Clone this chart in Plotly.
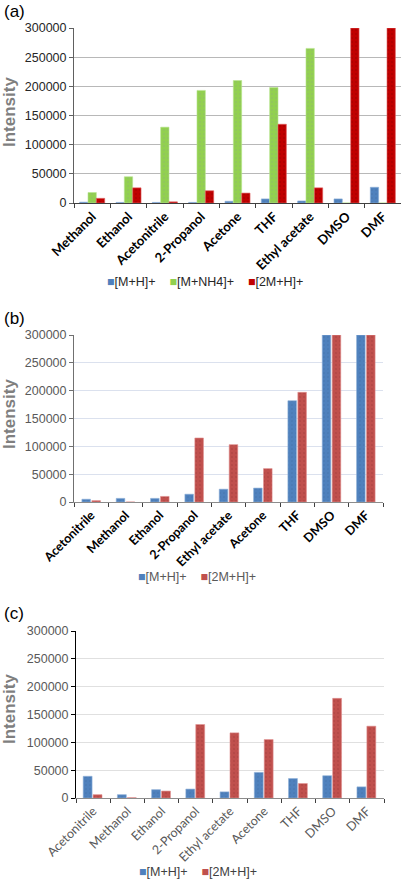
import plotly.graph_objects as go

# ---------------- data ----------------
cats_a = ["Methanol", "Ethanol", "Acetonitrile", "2-Propanol", "Acetone", "THF",
          "Ethyl acetate", "DMSO", "DMF"]
a_mh = [1500, 1000, 1000, 1000, 3000, 7000, 3500, 7000, 27000]
a_mnh4 = [18000, 45000, 130000, 193000, 210000, 198000, 265000, 0, 0]
a_2mh = [8000, 26000, 2000, 21000, 17000, 135000, 26000, 300000, 300000]

cats_b = ["Acetonitrile", "Methanol", "Ethanol", "2-Propanol", "Ethyl acetate",
          "Acetone", "THF", "DMSO", "DMF"]
b_mh = [5000, 6500, 6500, 14000, 23000, 25000, 182000, 300000, 300000]
b_2mh = [2500, 0, 10000, 115000, 103000, 60000, 197000, 300000, 300000]

cats_c = ["Acetonitrile", "Methanol", "Ethanol", "2-Propanol", "Ethyl acetate",
          "Acetone", "THF", "DMSO", "DMF"]
c_mh = [39000, 6000, 15000, 16000, 11000, 46000, 35000, 40000, 20000]
c_2mh = [6000, 500, 12500, 132000, 117000, 105000, 26000, 179000, 129000]

yticks = [0, 50000, 100000, 150000, 200000, 250000, 300000]

# ---------------- styling ----------------
W, H = 401, 879
def py(px):
    return 1 - px / H

BLUE = "#4f81bd"
GREEN = "#92d050"
RED_A = "#c00000"
RED_B = "#c0504d"
TICKFONT = "Liberation Sans"
CATFONT = "Lato"

fig = go.Figure()

def bar(x, y, name, color, xa, ya, width, offset, pat_fg, line_col):
    fig.add_trace(go.Bar(
        x=x, y=y, name=name, xaxis=xa, yaxis=ya, width=width, offset=offset,
        showlegend=False,
        marker=dict(color=color, line=dict(color=line_col, width=0.6),
                    pattern=dict(shape=".", fgcolor=pat_fg, size=4, solidity=0.12)),
    ))

# panel (a)
bar(cats_a, a_mh, "[M+H]+", BLUE, "x", "y", 0.23, -0.345, "#3b6597", "#8fb0d8")
bar(cats_a, a_mnh4, "[M+NH4]+", GREEN, "x", "y", 0.23, -0.115, "#8a9f8a", "#b8e690")
bar(cats_a, a_2mh, "[2M+H]+", RED_A, "x", "y", 0.23, 0.115, "#700000", "#e06060")
# panel (b)
bar(cats_b, b_mh, "[M+H]+", BLUE, "x2", "y2", 0.25, -0.27, "#3b6597", "#8fb0d8")
bar(cats_b, b_2mh, "[2M+H]+", RED_B, "x2", "y2", 0.25, 0.02, "#8a3030", "#e09090")
# panel (c)
bar(cats_c, c_mh, "[M+H]+", BLUE, "x3", "y3", 0.26, -0.29, "#3b6597", "#8fb0d8")
bar(cats_c, c_2mh, "[2M+H]+", RED_B, "x3", "y3", 0.26, 0.0, "#8a3030", "#e09090")

def xaxis(domain, anchor, cats, fontcolor, bold, linecolor, size):
    return dict(
        domain=domain, anchor=anchor, type="category", range=[-0.5, 8.5],
        categoryorder="array", categoryarray=cats, automargin=False,
        tickangle=-45, tickson="boundaries", ticks="outside", ticklen=4,
        tickcolor="#404040", showline=True, linecolor=linecolor, linewidth=1,
        showgrid=False, fixedrange=True,
        tickfont=dict(family=CATFONT, size=size, color=fontcolor,
                      weight="bold" if bold else "normal"),
    )

def yaxis(domain, anchor, gridcolor, linecolor, fontcolor):
    return dict(
        domain=domain, anchor=anchor, range=[0, 300000], tickvals=yticks,
        ticktext=[str(v) for v in yticks], ticks="outside", ticklen=4,
        automargin=False, fixedrange=True,
        tickcolor=linecolor, showline=True, linecolor=linecolor, linewidth=1,
        showgrid=True, gridcolor=gridcolor, gridwidth=1, zeroline=False,
        tickfont=dict(family=TICKFONT, size=12.5, color=fontcolor),
    )

fig.update_layout(
    width=W, height=H, margin=dict(l=0, r=0, t=0, b=0, autoexpand=False),
    paper_bgcolor="white", plot_bgcolor="white", barmode="overlay",
    showlegend=False,
    xaxis=xaxis([74 / W, 1.0], "y", cats_a, "#000000", True, "#404040", 13),
    yaxis=yaxis([py(203), py(28)], "x", "#b8b8b8", "#606060", "#262626"),
    xaxis2=xaxis([74 / W, 383 / W], "y2", cats_b, "#000000", True, "#8c8c8c", 12.5),
    yaxis2=yaxis([py(502), py(335)], "x2", "#dbe1ee", "#707070", "#595959"),
    xaxis3=xaxis([76 / W, 384 / W], "y3", cats_c, "#595959", False, "#8c8c8c", 12.5),
    yaxis3=yaxis([py(798), py(631)], "x3", "#e0e0e0", "#000000", "#595959"),
)

# legends (compact, as in the original)
def sq(c):
    return f"<span style='color:{c}'>■</span>"

legends = [
    (205, 282, [(BLUE, "[M+H]+"), (GREEN, "[M+NH4]+"), (RED_A, "[2M+H]+")], "#262626"),
    (197, 577, [(BLUE, "[M+H]+"), (RED_B, "[2M+H]+")], "#595959"),
    (198, 872, [(BLUE, "[M+H]+"), (RED_B, "[2M+H]+")], "#404040"),
]
for xpx, ypx, items, col in legends:
    txt = "    ".join(sq(c) + n for c, n in items)
    fig.add_annotation(text=txt, x=xpx / W, y=py(ypx), xref="paper", yref="paper",
                       xanchor="center", yanchor="middle", showarrow=False,
                       font=dict(family=TICKFONT, size=12.5, color=col))

# panel labels and axis titles
for lab, ypx in [("(a)", 12), ("(b)", 318), ("(c)", 613)]:
    fig.add_annotation(text=lab, x=2 / W, y=py(ypx), xref="paper", yref="paper",
                       xanchor="left", yanchor="middle", showarrow=False,
                       font=dict(family=TICKFONT, size=17, color="#000000"))
for ypx in [112, 414, 709]:
    fig.add_annotation(text="<b>Intensity</b>", x=9 / W, y=py(ypx), xref="paper", yref="paper",
                       xanchor="center", yanchor="middle", showarrow=False, textangle=-90,
                       font=dict(family=TICKFONT, size=17, color="#7f7f7f"))

fig.write_html(
    "out.html",
    config={"displayModeBar": False, "staticPlot": True},
    post_script="document.body.style.margin='0';document.body.style.overflow='hidden';",
)
